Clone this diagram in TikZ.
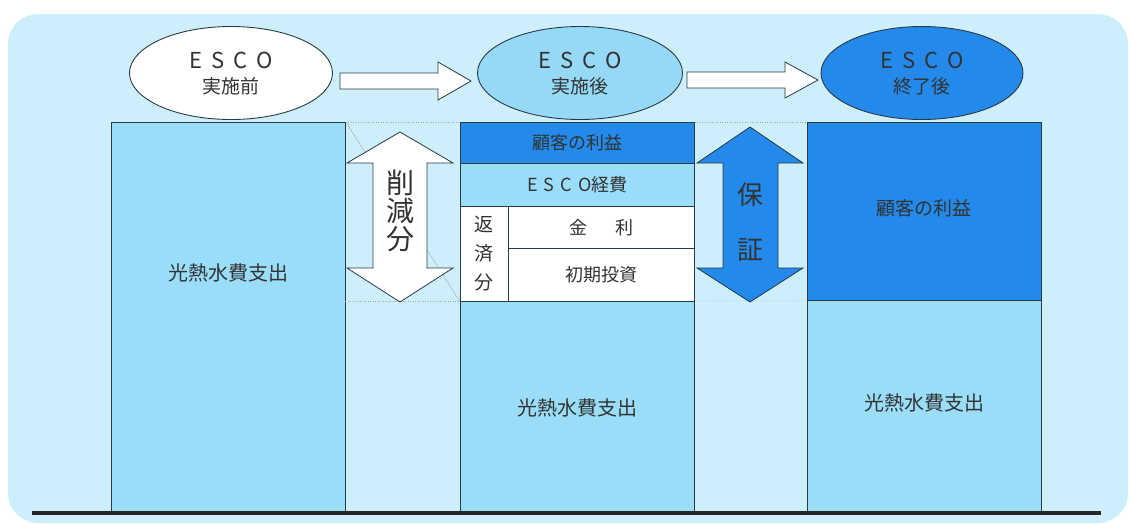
\documentclass[tikz,border=0pt]{standalone}
\usepackage{fontspec}
\setmainfont{Noto Sans CJK JP}
\usetikzlibrary{shapes.geometric}
\definecolor{bgc}{HTML}{CDEEFB}
\definecolor{barc}{HTML}{9ADDF9}
\definecolor{darkc}{HTML}{2389EB}
\definecolor{ell2}{HTML}{96D9F7}
\definecolor{txt}{HTML}{333333}
\definecolor{edge}{HTML}{2A3A44}
\tikzset{
  blk/.style={draw=edge, line width=0.8pt, minimum width=#1, inner sep=0pt, anchor=north west},
  ell/.style={draw=edge, line width=0.9pt, ellipse, inner sep=0pt, minimum height=93pt},
  lab/.style={text=txt, inner sep=0pt, font=\fontsize{18}{18}\selectfont},
  big/.style={text=txt, inner sep=0pt, font=\fontsize{20}{20}\selectfont},
  fat/.style={draw=edge, line width=0.8pt, line join=miter},
  guide/.style={draw=gray!70, line width=0.5pt, dotted}
}
\newcommand{\esco}{E\hspace{9pt}S\hspace{9pt}C\hspace{9pt}O}
\begin{document}
\begin{tikzpicture}[x=1pt,y=-1pt]
\useasboundingbox (0,0) rectangle (1132,523);
\fill[white] (0,0) rectangle (1132,523);
\fill[bgc, rounded corners=30pt] (8,14) rectangle (1128,523);

% left bar
\node[blk=234pt, fill=barc, minimum height=390pt] (b1) at (111,122) {};
\node[big] (t1) at (228,273) {光熱水費支出};

% middle bar
\node[blk=234pt, fill=darkc, minimum height=41pt] (m1) at (460,122) {};
\node[blk=234pt, fill=barc, minimum height=43pt] (m2) at (460,163) {};
\node[blk=48pt, fill=white, minimum height=95pt] (m3) at (460,206) {};
\node[blk=186pt, fill=white, minimum height=42pt] (m4) at (508,206) {};
\node[blk=186pt, fill=white, minimum height=53pt] (m5) at (508,248) {};
\node[blk=234pt, fill=barc, minimum height=211pt] (m6) at (460,301) {};
\node[lab] (tm1) at (m1.center) {顧客の利益};
\node[lab] (tm2) at (m2.center) {E\hspace{6pt}S\hspace{6pt}C\hspace{6pt}O経費};
\node[lab, align=center, font=\fontsize{19}{29}\selectfont] (tm3) at (m3.center) {返\\済\\分};
\node[lab] (tm4) at (m4.center) {金\hspace{28pt}利};
\node[lab] (tm5) at (m5.center) {初期投資};
\node[big] (tm6) at (577,408) {光熱水費支出};

% right bar
\node[blk=234pt, fill=darkc, minimum height=178pt] (r1) at (807,122) {};
\node[blk=234pt, fill=barc, minimum height=212pt] (r2) at (807,300) {};
\node[lab, font=\fontsize{19}{19}\selectfont] (tr1) at (924,208) {顧客の利益};
\node[big] (tr2) at (924,403) {光熱水費支出};

% guide lines
\draw[gray!60, line width=0.5pt] (b1.north east) -- (m3.south west);
\draw[guide] (b1.north east) -- (m1.north west);
\draw[guide] (345,301) -- (m6.north west);
\draw[guide] (m1.north east) -- (r1.north west);
\draw[guide] (m6.north east) -- (r1.south west);

% reduction arrow (white)
\draw[fat, fill=white] (400,132) -- (453,163) -- (427,163) -- (427,268) -- (453,268)
  -- (400,302) -- (347,268) -- (373,268) -- (373,163) -- (347,163) -- cycle;
\node[text=txt, align=center, inner sep=0pt, font=\fontsize{28}{28}\selectfont] (red) at (400,211) {削\\減\\分};

% guarantee arrow (blue)
\draw[fat, fill=darkc] (750,127) -- (803,163) -- (778,163) -- (778,268) -- (803,268)
  -- (750,302) -- (697,268) -- (723,268) -- (723,163) -- (697,163) -- cycle;
\node[text=txt, inner sep=0pt, font=\fontsize{26}{26}\selectfont] (g1) at (750,195) {保};
\node[text=txt, inner sep=0pt, font=\fontsize{26}{26}\selectfont] (g2) at (750,250) {証};

% ellipses
\node[ell, fill=white, minimum width=203pt] (e1) at (231,73) {};
\node[ell, fill=ell2, minimum width=205pt] (e2) at (580,73) {};
\node[ell, fill=darkc, minimum width=202pt] (e3) at (922,73) {};
\node[text=txt, inner sep=0pt, font=\fontsize{22}{22}\selectfont] (e1a) at (231,60) {\esco};
\node[text=txt, inner sep=0pt, font=\fontsize{19}{19}\selectfont] (e1b) at (231,86) {実施前};
\node[text=txt, inner sep=0pt, font=\fontsize{22}{22}\selectfont] (e2a) at (580,60) {\esco};
\node[text=txt, inner sep=0pt, font=\fontsize{19}{19}\selectfont] (e2b) at (580,86) {実施後};
\node[text=txt, inner sep=0pt, font=\fontsize{22}{22}\selectfont] (e3a) at (922,60) {\esco};
\node[text=txt, inner sep=0pt, font=\fontsize{19}{19}\selectfont] (e3b) at (922,86) {終了後};

% horizontal arrows
\draw[fat, fill=white] (340,73) -- (438,73) -- (438,62) -- (471,81) -- (438,100) -- (438,89) -- (340,89) -- cycle;
\draw[fat, fill=white] (687,72) -- (785,72) -- (785,62) -- (818,80) -- (785,98) -- (785,88) -- (687,88) -- cycle;

% baseline
\draw[line width=4.5pt, black!85] (32,513) -- (1101,513);
\end{tikzpicture}
\end{document}
